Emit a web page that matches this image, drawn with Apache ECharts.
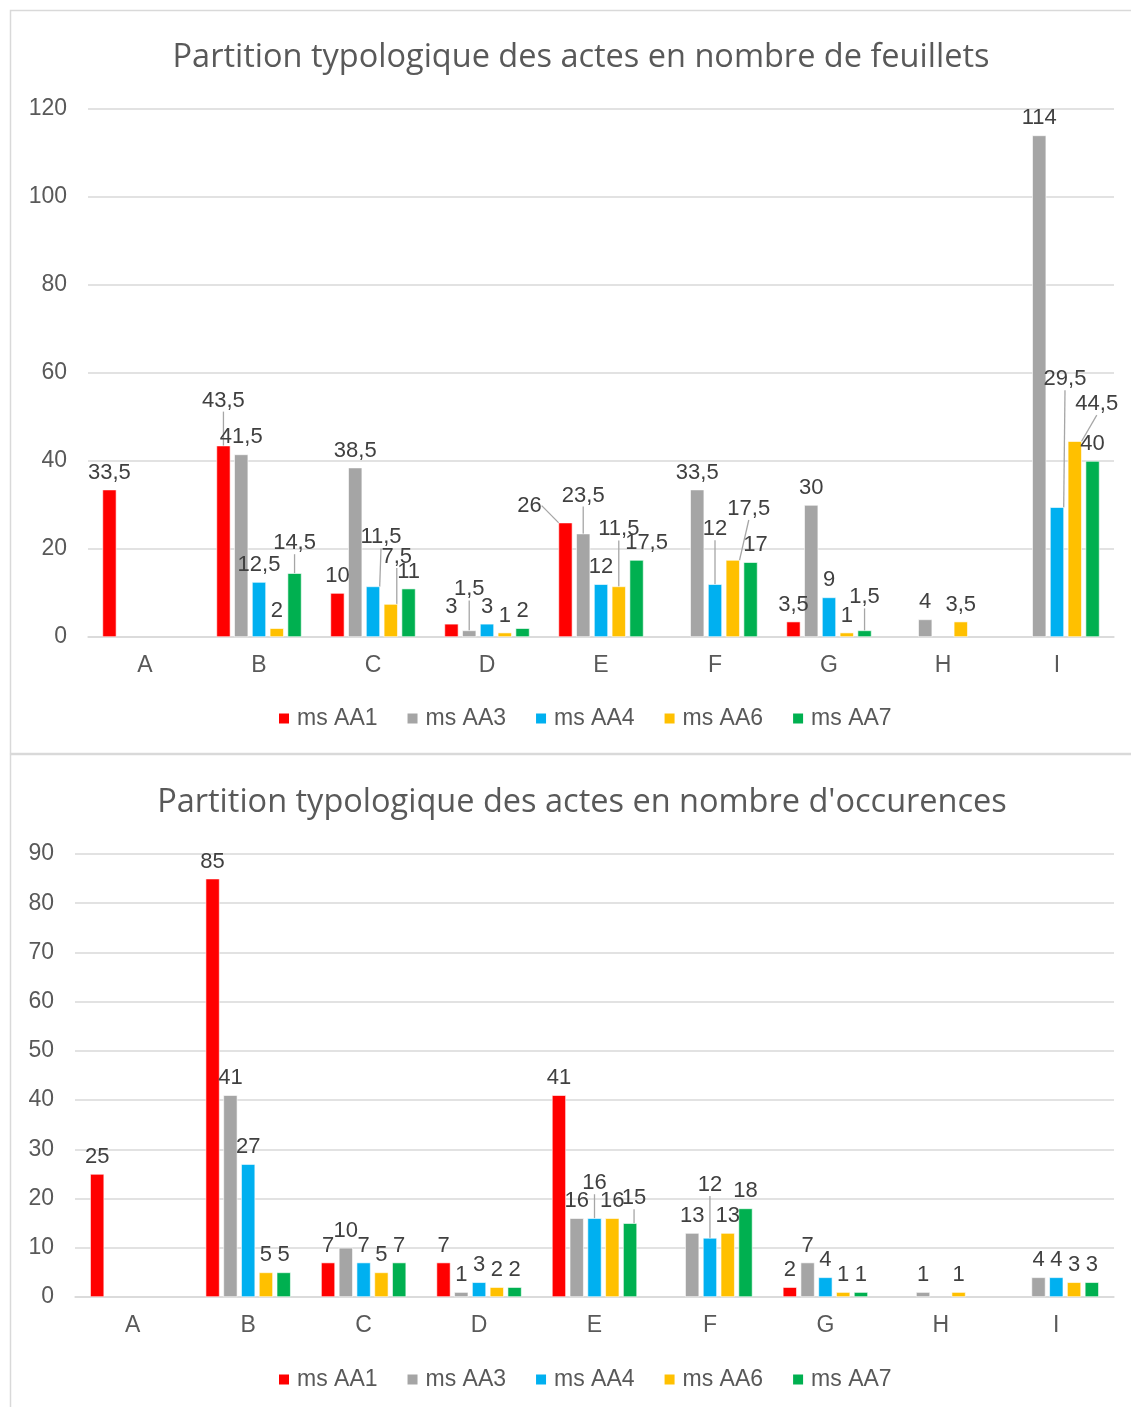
<!DOCTYPE html>
<html><head><meta charset="utf-8">
<script src="https://cdn.jsdelivr.net/npm/echarts@6/dist/echarts.min.js"></script>
<style>html,body{margin:0;padding:0;background:#fff}#c{width:1131px;height:1407px}</style>
</head><body><div id="c"></div>
<script>
const categories = ['A','B','C','D','E','F','G','H','I'];
const seriesNames = ['ms AA1','ms AA3','ms AA4','ms AA6','ms AA7'];
const colors = ['#FF0000','#A5A5A5','#00B0F0','#FFC000','#00B050'];
const titleTop = 'Partition typologique des actes en nombre de feuillets';
const titleBottom = "Partition typologique des actes en nombre d'occurences";
const yTicksTop = [0,20,40,60,80,100,120];
const yTicksBottom = [0,10,20,30,40,50,60,70,80,90];

// nombre de feuillets
const feuilletsAA1 = [33.5, 43.5, 10, 3, 26, null, 3.5, null, null];
const feuilletsAA3 = [null, 41.5, 38.5, 1.5, 23.5, 33.5, 30, 4, 114];
const feuilletsAA4 = [null, 12.5, 11.5, 3, 12, 12, 9, null, 29.5];
const feuilletsAA6 = [null, 2, 7.5, 1, 11.5, 17.5, 1, 3.5, 44.5];
const feuilletsAA7 = [null, 14.5, 11, 2, 17.5, 17, 1.5, null, 40];

// nombre d'occurences
const occAA1 = [25, 85, 7, 7, 41, null, 2, null, null];
const occAA3 = [null, 41, 10, 1, 16, 13, 7, 1, 4];
const occAA4 = [null, 27, 7, 3, 16, 12, 4, null, 4];
const occAA6 = [null, 5, 5, 2, 16, 13, 1, 1, 3];
const occAA7 = [null, 5, 7, 2, 15, 18, 1, null, 3];

const topData = [feuilletsAA1, feuilletsAA3, feuilletsAA4, feuilletsAA6, feuilletsAA7];
const bottomData = [occAA1, occAA3, occAA4, occAA6, occAA7];

// label displacement (like the moved labels in the original), [series][category] -> [dx,dy,withLine]
const topOffsets = {
  0: {1: [0,-28,1], 4: [-36,0,1]},
  1: {3: [0,-24,1], 4: [0,-21,1]},
  2: {2: [8,-32,1], 5: [0,-38,1], 8: [8,-111,1]},
  3: {2: [6,-30,1], 4: [0,-40,1], 5: [16,-34,1], 8: [22,-20,1]},
  4: {1: [0,-13,1], 4: [10,0,0], 5: [5,0,0], 6: [0,-16,1]}
};
const bottomOffsets = {
  2: {4: [0,-18,1], 5: [0,-36,1]},
  4: {4: [4,-8,1]}
};

const txt = '#595959';
const fontFam = '"Liberation Sans", Arial, sans-serif';
const fmt = p => String(p.value).replace('.', ',');

function makeSeries(dataSets, axisIdx, offsets) {
  return dataSets.map((d, i) => ({
    name: seriesNames[i],
    type: 'bar',
    xAxisIndex: axisIdx, yAxisIndex: axisIdx,
    data: d.map((v, j) => {
      const o = offsets[i] && offsets[i][j];
      return {value: v, labelLine: {show: !!(o && o[2])}};
    }),
    barWidth: 14,
    barGap: '27%',
    itemStyle: {color: colors[i], borderColor: '#fff', borderWidth: 0.6},
    label: {show: true, position: 'top', distance: 6, color: '#404040', fontSize: 22, fontFamily: fontFam, formatter: fmt},
    labelLine: {lineStyle: {color: '#A6A6A6', width: 1.3}},
    labelLayout: function (p) {
      const o = offsets[i] && offsets[i][p.dataIndex];
      return o ? {dx: o[0], dy: o[1]} : {};
    },
    emphasis: {disabled: true},
    animation: false
  }));
}

const axisCommon = {
  type: 'category', data: categories,
  axisLine: {lineStyle: {color: '#D9D9D9', width: 1.5}},
  axisTick: {show: false},
  axisLabel: {color: txt, fontSize: 23, fontFamily: fontFam, margin: 17}
};
const yCommon = {
  type: 'value',
  axisLine: {show: false}, axisTick: {show: false},
  splitLine: {lineStyle: {color: '#D9D9D9', width: 1.5}},
  axisLabel: {color: txt, fontSize: 23, fontFamily: fontFam, margin: 21}
};

const legendCommon = {data: seriesNames, left: 277, padding: 0, itemWidth: 12, itemHeight: 12, itemGap: 28, icon: 'rect',
  textStyle: {color: txt, fontSize: 23, fontFamily: fontFam, padding: [0,0,0,2]}};

const chart = echarts.init(document.getElementById('c'), null, {renderer: 'canvas'});
chart.setOption({
  backgroundColor: '#fff',
  animation: false,
  graphic: [
    {type: 'rect', shape: {x: 10.5, y: 10.5, width: 1130, height: 743}, style: {fill: 'none', stroke: '#D9D9D9', lineWidth: 1.5}, z: -10},
    {type: 'rect', shape: {x: 10.5, y: 754.5, width: 1130, height: 660}, style: {fill: 'none', stroke: '#D9D9D9', lineWidth: 1.5}, z: -10}
  ],
  title: [
    {text: titleTop, left: 576, top: 36, textAlign: 'center', textStyle: {color: txt, fontSize: 32.5, fontWeight: 'normal', fontFamily: '"Open Sans", "Noto Sans", sans-serif'}},
    {text: titleBottom, left: 577, top: 781, textAlign: 'center', textStyle: {color: txt, fontSize: 32.5, fontWeight: 'normal', fontFamily: '"Open Sans", "Noto Sans", sans-serif'}}
  ],
  legend: [
    Object.assign({top: 707}, legendCommon),
    Object.assign({top: 1368}, legendCommon)
  ],
  grid: [
    {left: 88, right: 17, top: 109, height: 528},
    {left: 75, right: 17, top: 854, height: 443}
  ],
  xAxis: [
    Object.assign({gridIndex: 0}, axisCommon),
    Object.assign({gridIndex: 1}, axisCommon)
  ],
  yAxis: [
    Object.assign({gridIndex: 0, min: yTicksTop[0], max: yTicksTop[yTicksTop.length-1], interval: yTicksTop[1]-yTicksTop[0]}, yCommon),
    Object.assign({gridIndex: 1, min: yTicksBottom[0], max: yTicksBottom[yTicksBottom.length-1], interval: yTicksBottom[1]-yTicksBottom[0]}, yCommon)
  ],
  series: makeSeries(topData, 0, topOffsets).concat(makeSeries(bottomData, 1, bottomOffsets))
});
</script></body></html>
